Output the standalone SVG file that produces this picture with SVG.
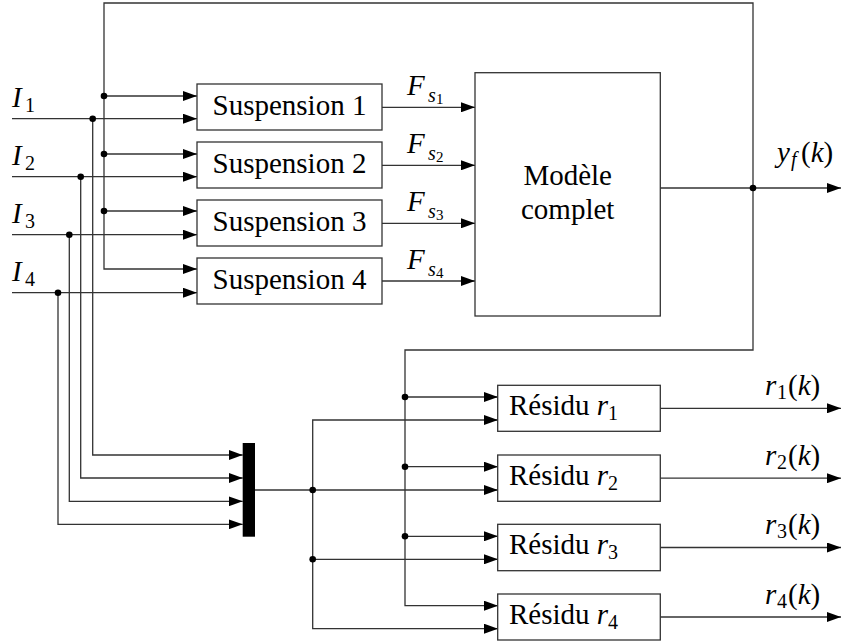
<svg xmlns="http://www.w3.org/2000/svg" width="841" height="643" viewBox="0 0 841 643" font-family="'Liberation Serif', 'DejaVu Serif', serif">
<style>
.box{fill:#fff;stroke:#333;stroke-width:1.3}
.ln{fill:none;stroke:#333;stroke-width:1.3}
.ar{marker-end:url(#ah)}
text{font-family:'Liberation Serif','DejaVu Serif',serif;font-size:29px;fill:#000}
.i{font-style:italic}
.s{font-size:20px}
.ss{font-size:15px}
.dot{fill:#000}
</style>
<defs>
<marker id="ah" markerWidth="14" markerHeight="10" refX="14" refY="5" orient="auto" markerUnits="userSpaceOnUse">
<path d="M0,0 L14,5 L0,10 z" fill="#000"/>
</marker>
</defs>
<rect width="841" height="643" fill="#fff"/>

<g id="connectors">
<path class="ln ar" d="M753,188 V3 H104 V269 H197"/>
<path class="ln ar" d="M753,188 V350 H405 V605.7 H498"/>
<path class="ln ar" d="M660,188 H841"/>
<path class="ln ar" d="M104,96 H197"/>
<path class="ln ar" d="M104,154 H197"/>
<path class="ln ar" d="M104,211 H197"/>
<path class="ln ar" d="M12,118.7 H197"/>
<path class="ln ar" d="M12,176.7 H197"/>
<path class="ln ar" d="M12,234.7 H197"/>
<path class="ln ar" d="M12,292.7 H197"/>
<path class="ln ar" d="M92.7,118.7 V455 H242.7"/>
<path class="ln ar" d="M80.7,176.7 V478 H242.7"/>
<path class="ln ar" d="M69.3,234.7 V501.3 H242.7"/>
<path class="ln ar" d="M58,292.7 V524.3 H242.7"/>
<path class="ln ar" d="M382,107.3 H475"/>
<path class="ln ar" d="M382,165.3 H475"/>
<path class="ln ar" d="M382,223.3 H475"/>
<path class="ln ar" d="M382,281 H475"/>
<path class="ln ar" d="M255,490 H498"/>
<path class="ln ar" d="M312.7,490 V420 H498"/>
<path class="ln ar" d="M312.7,490 V628.7 H498"/>
<path class="ln ar" d="M312.7,559.3 H498"/>
<path class="ln ar" d="M405,397 H498"/>
<path class="ln ar" d="M405,466.7 H498"/>
<path class="ln ar" d="M405,536.3 H498"/>
<path class="ln ar" d="M660,408.3 H841"/>
<path class="ln ar" d="M660,478.2 H841"/>
<path class="ln ar" d="M660,547.5 H841"/>
<path class="ln ar" d="M660,617 H841"/>
<circle class="dot" cx="104" cy="96" r="3.3"/>
<circle class="dot" cx="104" cy="154" r="3.3"/>
<circle class="dot" cx="104" cy="211" r="3.3"/>
<circle class="dot" cx="92.7" cy="118.7" r="3.3"/>
<circle class="dot" cx="80.7" cy="176.7" r="3.3"/>
<circle class="dot" cx="69.3" cy="234.7" r="3.3"/>
<circle class="dot" cx="58" cy="292.7" r="3.3"/>
<circle class="dot" cx="753" cy="188" r="3.3"/>
<circle class="dot" cx="405" cy="397" r="3.3"/>
<circle class="dot" cx="405" cy="466.7" r="3.3"/>
<circle class="dot" cx="405" cy="536.3" r="3.3"/>
<circle class="dot" cx="312.7" cy="490" r="3.3"/>
<circle class="dot" cx="312.7" cy="559.3" r="3.3"/>
</g>

<g id="labels">
<text><tspan class="i" x="12" y="107">I</tspan><tspan class="s" x="25" y="112">1</tspan></text>
<text><tspan class="i" x="12" y="165">I</tspan><tspan class="s" x="25" y="170">2</tspan></text>
<text><tspan class="i" x="12" y="223">I</tspan><tspan class="s" x="25" y="228">3</tspan></text>
<text><tspan class="i" x="12" y="281">I</tspan><tspan class="s" x="25" y="286">4</tspan></text>
<text><tspan class="i" x="407" y="95">F</tspan><tspan class="i s" x="428" y="102">s</tspan><tspan class="ss" x="436" y="104">1</tspan></text>
<text><tspan class="i" x="407" y="153">F</tspan><tspan class="i s" x="428" y="160">s</tspan><tspan class="ss" x="436" y="162">2</tspan></text>
<text><tspan class="i" x="407" y="211">F</tspan><tspan class="i s" x="428" y="218">s</tspan><tspan class="ss" x="436" y="220">3</tspan></text>
<text><tspan class="i" x="407" y="269">F</tspan><tspan class="i s" x="428" y="276">s</tspan><tspan class="ss" x="436" y="278">4</tspan></text>
<text><tspan class="i" x="777" y="162">y</tspan><tspan class="i s" x="791" y="166">f</tspan><tspan x="801" y="162">(</tspan><tspan class="i">k</tspan><tspan>)</tspan></text>
<text><tspan class="i" x="765" y="395">r</tspan><tspan class="s" x="777" y="399">1</tspan><tspan x="788" y="395">(</tspan><tspan class="i">k</tspan><tspan>)</tspan></text>
<text><tspan class="i" x="765" y="464.7">r</tspan><tspan class="s" x="777" y="468.7">2</tspan><tspan x="788" y="464.7">(</tspan><tspan class="i">k</tspan><tspan>)</tspan></text>
<text><tspan class="i" x="765" y="534">r</tspan><tspan class="s" x="777" y="538">3</tspan><tspan x="788" y="534">(</tspan><tspan class="i">k</tspan><tspan>)</tspan></text>
<text><tspan class="i" x="765" y="603.7">r</tspan><tspan class="s" x="777" y="607.7">4</tspan><tspan x="788" y="603.7">(</tspan><tspan class="i">k</tspan><tspan>)</tspan></text>
</g>

<g id="suspension1"><rect class="box" x="197" y="84" width="185" height="46"/><text x="289.5" y="115" text-anchor="middle">Suspension 1</text></g>
<g id="suspension2"><rect class="box" x="197" y="142" width="185" height="46"/><text x="289.5" y="173" text-anchor="middle">Suspension 2</text></g>
<g id="suspension3"><rect class="box" x="197" y="200" width="185" height="46"/><text x="289.5" y="231" text-anchor="middle">Suspension 3</text></g>
<g id="suspension4"><rect class="box" x="197" y="258" width="185" height="46"/><text x="289.5" y="289" text-anchor="middle">Suspension 4</text></g>

<g id="modele"><rect class="box" x="475" y="72.7" width="185.3" height="243.3"/>
<text x="567.7" y="185" text-anchor="middle">Modèle</text>
<text x="567.7" y="219" text-anchor="middle">complet</text></g>

<g id="mux"><rect x="242.7" y="443" width="12.3" height="93.7" fill="#000"/></g>

<g id="residu1"><rect class="box" x="497.7" y="385.3" width="162.6" height="46"/><text><tspan x="509" y="415">Résidu </tspan><tspan class="i">r</tspan><tspan class="s" dy="5">1</tspan></text></g>
<g id="residu2"><rect class="box" x="497.7" y="455" width="162.6" height="46.3"/><text><tspan x="509" y="484.7">Résidu </tspan><tspan class="i">r</tspan><tspan class="s" dy="5">2</tspan></text></g>
<g id="residu3"><rect class="box" x="497.7" y="524.3" width="162.6" height="46.4"/><text><tspan x="509" y="554">Résidu </tspan><tspan class="i">r</tspan><tspan class="s" dy="5">3</tspan></text></g>
<g id="residu4"><rect class="box" x="497.7" y="594" width="162.6" height="46"/><text><tspan x="509" y="623.7">Résidu </tspan><tspan class="i">r</tspan><tspan class="s" dy="5">4</tspan></text></g>
</svg>
